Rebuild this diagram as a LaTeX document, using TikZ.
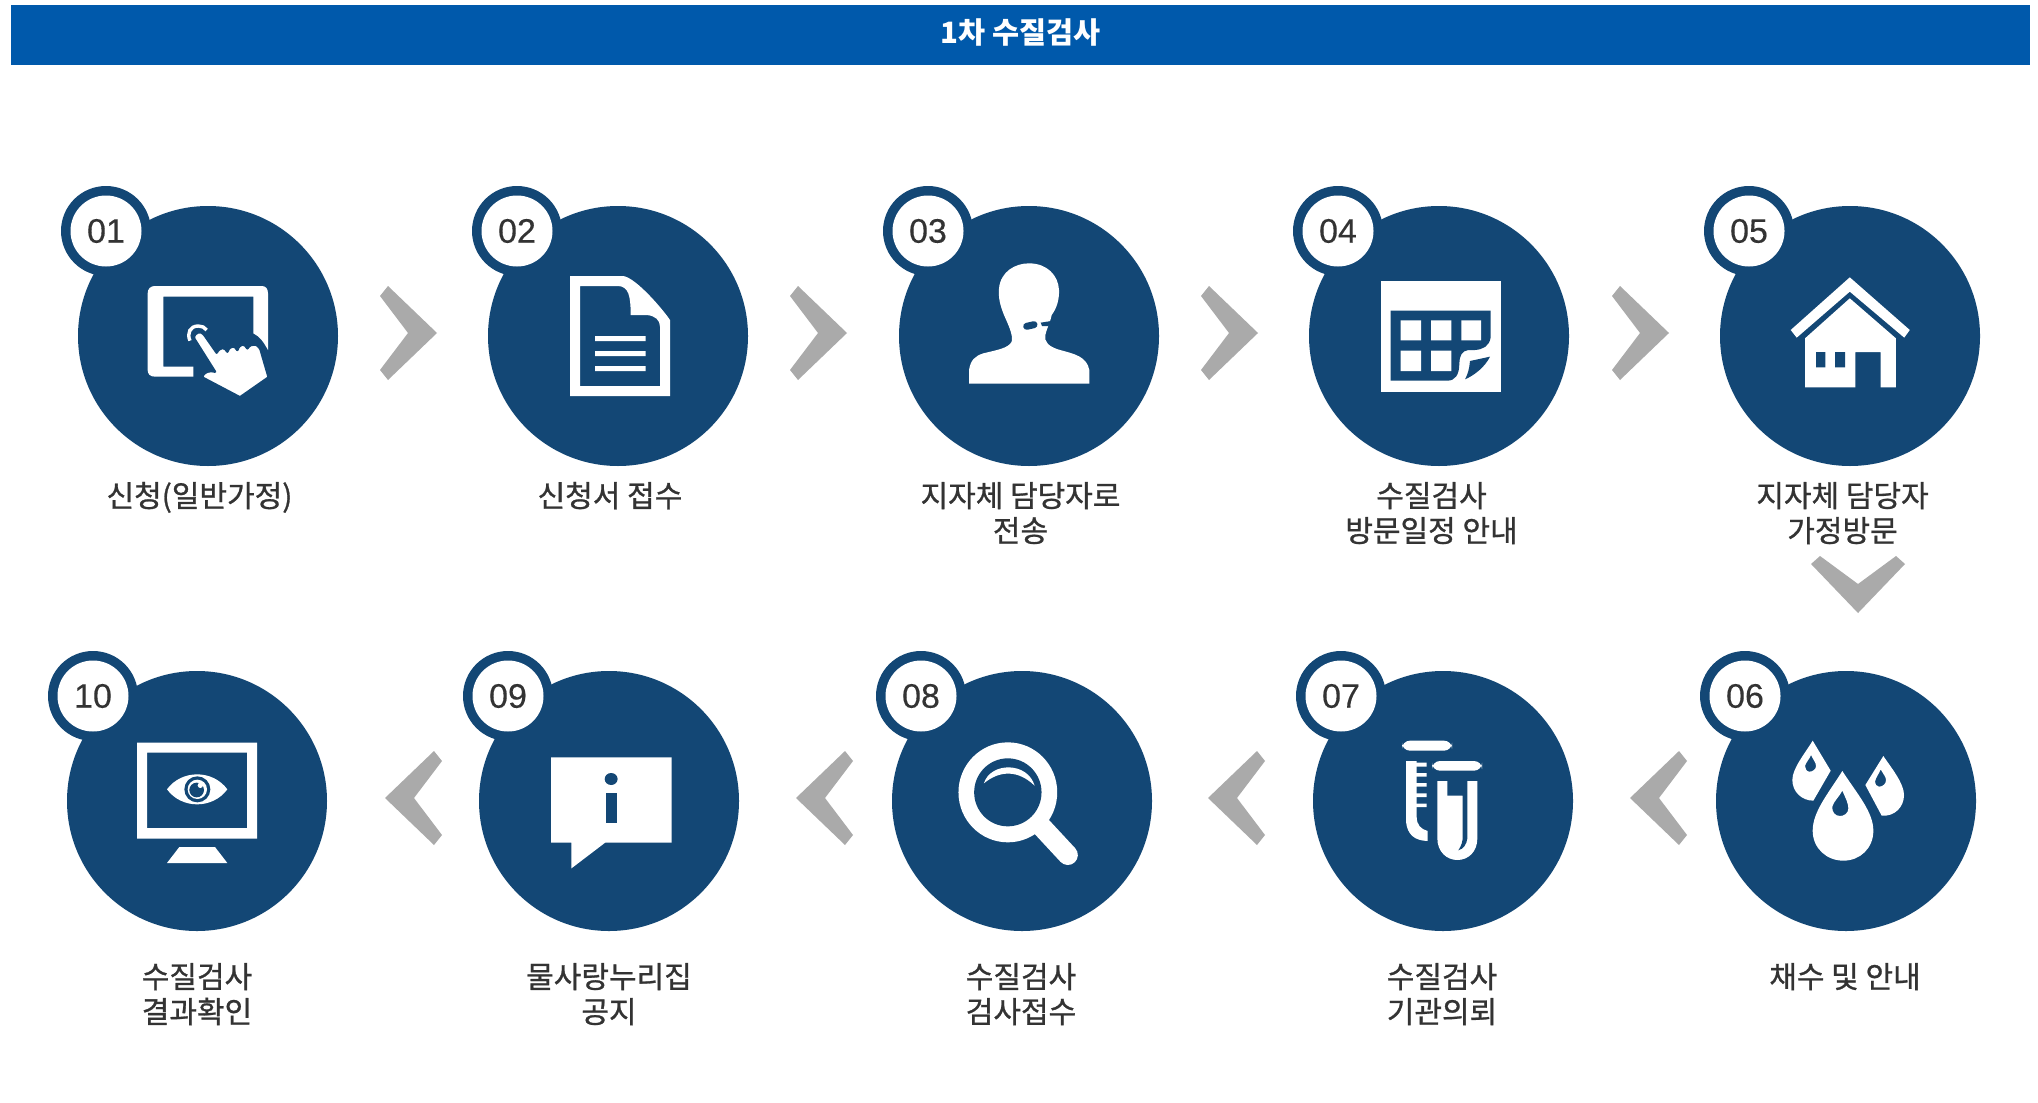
\documentclass[tikz,border=0pt]{standalone}
\usepackage{fontspec}
\setmainfont[RawFeature={embolden=0.3}]{Liberation Sans}
\newfontfamily\krfont{Noto Sans CJK KR}
\newfontfamily\krlabel[RawFeature={embolden=0.9}]{Noto Sans CJK KR}
\definecolor{navy}{RGB}{19,71,117}
\definecolor{headblue}{RGB}{0,89,171}
\definecolor{chev}{RGB}{170,170,170}
\definecolor{ink}{RGB}{51,51,51}
\tikzset{
  disc/.style={circle,fill=navy,minimum size=130pt,inner sep=0pt,outer sep=0pt},
  ring/.style={circle,fill=navy,minimum size=45pt,inner sep=0pt,outer sep=0pt},
  num/.style={circle,fill=white,minimum size=35.5pt,inner sep=0pt,outer sep=0pt,text=ink,font=\fontsize{17}{17}\selectfont},
  lbl/.style={anchor=north,align=center,inner sep=0pt,outer sep=0pt,text=ink,font=\krlabel\fontsize{15}{17.5}\selectfont},
  chevfill/.style={fill=chev},
  ic/.style={fill=white},
  icb/.style={fill=navy},
}
\newcommand{\stepnode}[5]{% id, cx, cy, number, badge x offset
  \node[disc] (c#1) at (#2,#3) {};
  \node[ring] (r#1) at (#2+#5,#3-105) {};
  \node[num] (b#1) at (r#1.center) {#4};
}
\newcommand{\chevR}[2]{\fill[chevfill,shift={(#1,#2)}] (8,0)--(57,47)--(8,94)--(0,84)--(28,47)--(0,10)--cycle;}
\newcommand{\chevL}[2]{\fill[chevfill,shift={(#1,#2)}] (49,0)--(0,47)--(49,94)--(57,84)--(29,47)--(57,10)--cycle;}
\begin{document}
\begin{tikzpicture}[x=0.5pt,y=-0.5pt]
\useasboundingbox (0,0) rectangle (2038,1102);
\fill[white] (0,0) rectangle (2038,1102);
\node[fill=headblue,minimum width=1009.5pt,minimum height=30pt,inner sep=0pt,outer sep=0pt,text=white,font=\krfont\bfseries\fontsize{14.7}{17}\selectfont] (head) at (1020.5,35) {\raisebox{3.6pt}{1차 수질검사}};

\stepnode{1}{208}{336}{01}{-102}
\stepnode{2}{618}{336}{02}{-101}
\stepnode{3}{1029}{336}{03}{-101}
\stepnode{4}{1439}{336}{04}{-101}
\stepnode{5}{1850}{336}{05}{-101}
\stepnode{6}{1846}{801}{06}{-101}
\stepnode{7}{1443}{801}{07}{-102}
\stepnode{8}{1022}{801}{08}{-101}
\stepnode{9}{609}{801}{09}{-101}
\stepnode{10}{197}{801}{10}{-104}

\chevR{380}{286}\chevR{790}{286}\chevR{1201}{286}\chevR{1612}{286}
\chevL{385}{751}\chevL{796}{751}\chevL{1208}{751}\chevL{1630}{751}
\fill[chevfill,shift={(1811,556)}] (0,8)--(9,0)--(47,28)--(85,0)--(94,8)--(47,57)--cycle;

\node[lbl] (l1) at (199.5,482) {신청(일반가정)};
\node[lbl] (l2) at (610,482) {신청서 접수};
\node[lbl] (l3) at (1020.5,482) {지자체 담당자로\\전송};
\node[lbl] (l4) at (1431.5,482) {수질검사\\방문일정 안내};
\node[lbl] (l5) at (1842.5,482) {지자체 담당자\\가정방문};
\node[lbl] (l6) at (1845,963) {채수 및 안내};
\node[lbl] (l7) at (1442,963) {수질검사\\기관의뢰};
\node[lbl] (l8) at (1021,963) {수질검사\\검사접수};
\node[lbl] (l9) at (609,963) {물사랑누리집\\공지};
\node[lbl] (l10) at (197,963) {수질검사\\결과확인};

% icon 01 tablet and hand
\begin{scope}[shift={(40,170)},scale=1/3]
\fill[ic] (460,620)--(345,620) .. controls (330,620) and (323,612) .. (323,600)--(323,370) .. controls (323,356) and (332,348) .. (345,348)--(665,348) .. controls (677,348) and (684,356) .. (684,370)--(684,540) .. controls (670,515) and (660,500) .. (640,490)--(640,380)--(370,380)--(370,590)--(460,590)--cycle;
\draw[white,line width=1.7pt] (450,512) .. controls (440,490) and (450,468) .. (475,468) .. controls (485,468) and (495,472) .. (500,480);
\draw[navy,line width=1.2pt,fill=white,line join=round] (462,505) .. controls (462,485) and (485,480) .. (493,495)--(530,548) .. controls (540,530) and (555,530) .. (562,545) .. controls (570,525) and (585,525) .. (592,540) .. controls (600,518) and (615,520) .. (622,535) .. controls (635,515) and (660,520) .. (665,550)--(686,622)--(600,682)--(486,622) .. controls (490,605) and (510,600) .. (525,605)--cycle;
\end{scope}

% icon 02 document
\begin{scope}[shift={(480,170)},scale=1/3]
\fill[ic,even odd rule] (270,318)--(430,318) .. controls (470,325) and (550,420) .. (570,450)--(570,678)--(270,678)--cycle
 (300,348)--(415,348) .. controls (445,350) and (452,375) .. (452,435)--(500,435) .. controls (525,437) and (540,450) .. (540,470)--(540,648)--(300,648)--cycle;
\fill[ic] (345,498) rectangle (497,513) (345,543) rectangle (497,558) (345,588) rectangle (497,603);
\end{scope}

% icon 03 person
\begin{scope}[shift={(900,200)},scale=1/3]
\fill[ic] (207,551)--(207,510) .. controls (212,480) and (225,468) .. (250,460) .. controls (290,450) and (325,445) .. (335,425) .. controls (340,405) and (325,375) .. (312,345) .. controls (300,315) and (295,295) .. (297,265) .. controls (302,215) and (345,190) .. (387,190) .. controls (440,190) and (475,225) .. (477,270) .. controls (478,300) and (470,325) .. (455,345) .. controls (450,370) and (440,385) .. (436,405) .. controls (432,425) and (445,440) .. (480,450) .. controls (525,462) and (560,470) .. (568,510)--(568,551)--cycle;
\draw[navy,line width=3.5pt,line cap=round] (380,379)--(402,374);
\fill[icb] (422,368)--(460,362)--(445,378)--(426,378)--cycle;
\end{scope}

% icon 04 calendar
\begin{scope}[shift={(1360,260)},scale=1/3]
\fill[ic] (63,62) rectangle (422,395);
\fill[icb] (92,152)--(392,152)--(392,232) .. controls (388,258) and (370,268) .. (345,270)--(325,270) .. controls (305,272) and (298,290) .. (298,310) .. controls (298,345) and (285,362) .. (262,362)--(92,362)--cycle;
\fill[ic] (122,181) rectangle (183,241) (213,181) rectangle (274,241) (304,181) rectangle (363,241) (122,272) rectangle (183,333) (213,272) rectangle (274,333);
\fill[icb] (390,290)--(330,303) .. controls (328,325) and (324,342) .. (315,358) .. controls (345,345) and (375,320) .. (390,290)--cycle;
\end{scope}

% icon 05 house
\begin{scope}[shift={(1277.5,170)},xscale=1/2.1667,yscale=1/3]
\fill[ic] (1240,322)--(1370,480)--(1358,503)--(1240,365)--(1125,503)--(1112,480)--cycle;
\fill[ic] (1240,385)--(1340,505)--(1340,652)--(1307,652)--(1307,546)--(1252,546)--(1252,652)--(1143,652)--(1143,505)--cycle;
\fill[icb] (1167,546) rectangle (1187,592) (1208,546) rectangle (1230,592);
\end{scope}

% icon 06 drops
\begin{scope}[shift={(1680,640)},scale=1/3]
\fill[ic,even odd rule] (487,393) .. controls (530,460) and (580,515) .. (580,572) .. controls (580,625) and (540,662) .. (490,662) .. controls (440,662) and (398,625) .. (398,572) .. controls (398,515) and (445,460) .. (487,393)--cycle
 (487,452) .. controls (497,475) and (505,490) .. (505,505) .. controls (505,520) and (492,528) .. (480,528) .. controls (465,528) and (455,515) .. (457,500) .. controls (460,485) and (478,470) .. (487,452)--cycle;
\fill[ic,even odd rule] (398,302)--(452,392)--(400,482) .. controls (365,482) and (337,455) .. (337,420) .. controls (337,385) and (375,340) .. (398,302)--cycle
 (393,345) .. controls (400,360) and (408,368) .. (408,378) .. controls (408,388) and (398,395) .. (388,395) .. controls (380,395) and (375,385) .. (375,378) .. controls (377,368) and (388,358) .. (393,345)--cycle;
\fill[ic,even odd rule] (610,348)--(556,435)--(605,527) .. controls (645,530) and (672,500) .. (672,465) .. controls (672,430) and (635,385) .. (610,348)--cycle
 (602,388) .. controls (610,402) and (618,412) .. (618,420) .. controls (618,432) and (608,440) .. (597,440) .. controls (590,440) and (584,432) .. (585,425) .. controls (587,412) and (597,402) .. (602,388)--cycle;
\end{scope}

% icon 07 test tubes
\begin{scope}[shift={(1380,725)},scale=1/3]
\fill[ic,rounded corners=4pt] (66,47) rectangle (216,77) (156,108) rectangle (306,137);
\fill[ic] (78,108)--(78,290) .. controls (82,330) and (105,347) .. (143,348)--(143,318) .. controls (122,312) and (110,300) .. (110,275)--(110,108)--cycle;
\fill[ic] (105,113) rectangle (140,125) (105,144) rectangle (140,155) (105,174) rectangle (140,185) (105,205) rectangle (140,216) (105,236) rectangle (140,246);
\fill[ic] (172,168)--(172,340) .. controls (172,380) and (200,405) .. (232,405) .. controls (265,405) and (292,380) .. (292,340)--(292,168)--cycle;
\fill[icb] (202,168)--(262,168)--(262,340) .. controls (260,358) and (250,372) .. (235,376) .. controls (245,360) and (248,350) .. (248,335)--(248,212)--(202,212)--cycle;
\end{scope}

% icon 08 magnifier
\begin{scope}[shift={(880,640)},xscale=1/2.1667,yscale=1/3]
\draw[white,line width=10pt,line cap=round] (350,560)--(407,645);
\fill[ic] (277,457) ellipse [x radius=107,y radius=150];
\fill[icb] (277,457) ellipse [x radius=73,y radius=102];
\fill[ic] (225,430) .. controls (240,365) and (320,365) .. (335,437) .. controls (300,390) and (260,390) .. (225,430)--cycle;
\end{scope}

% icon 09 speech bubble
\begin{scope}[shift={(37.5,640)},xscale=1/2.1667,yscale=1/3]
\fill[ic] (1113,352)--(1374,352)--(1374,608)--(1230,608)--(1157,685)--(1157,608)--(1113,608)--cycle;
\fill[icb] (1243,417) ellipse [x radius=14,y radius=18];
\fill[icb] (1231,460) rectangle (1256,549);
\end{scope}

% icon 10 monitor and eye
\begin{scope}[shift={(120,730)},scale=1/3]
\fill[ic,even odd rule] (51,38) rectangle (411,326) (81,68) rectangle (381,294);
\fill[ic] (178,351)--(285,351)--(322,399)--(141,399)--cycle;
\fill[ic] (141,178) .. controls (185,118) and (278,118) .. (322,178) .. controls (278,238) and (185,238) .. (141,178)--cycle;
\fill[icb] (232,178) circle [radius=39];
\fill[ic] (232,178) circle [radius=29];
\fill[icb] (230,180) circle [radius=22];
\fill[ic] (241,166) circle [radius=8];
\end{scope}
\end{tikzpicture}
\end{document}
